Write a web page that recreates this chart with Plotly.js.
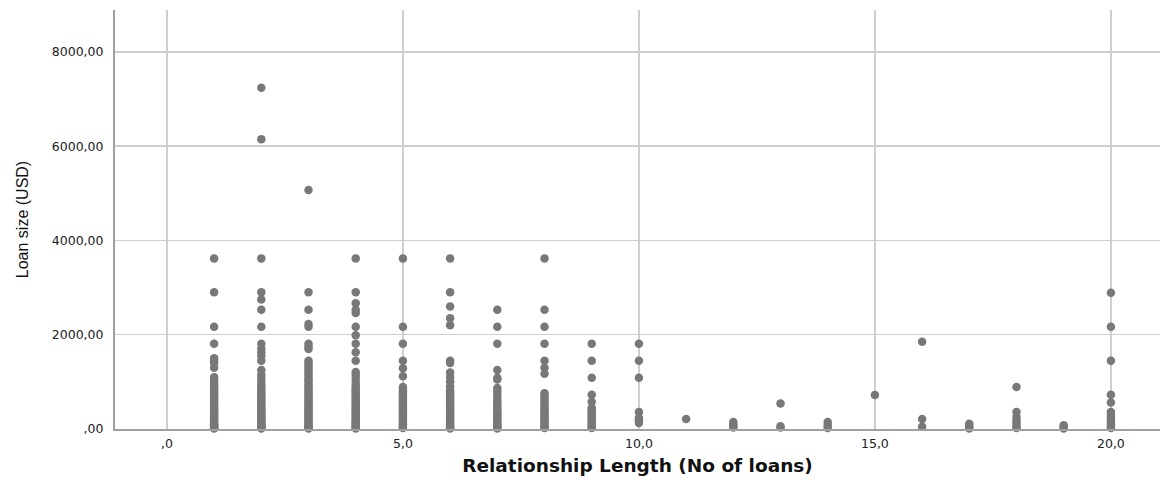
<!DOCTYPE html>
<html>
<head>
<meta charset="utf-8">
<script src="https://cdn.plot.ly/plotly-3.0.1.min.js"></script>
<style>html,body{margin:0;padding:0;background:#fff;}#chart{width:1162px;height:480px;}</style>
</head>
<body>
<div id="chart"></div>
<script>
// Loan sizes (USD) by relationship length (number of loans)
const len1 = [3620, 2900, 2170, 1810, 1500, 1450, 1400, 1300, 1100, 1050, 1000, 950, 900, 860, 800, 760, 725, 690, 650, 600, 560, 520, 480, 450, 420, 380, 362, 330, 300, 270, 240, 210, 180, 150, 120, 100, 80, 60, 40, 20, 10];
const len2 = [7240, 6150, 3620, 2900, 2750, 2530, 2170, 1810, 1700, 1620, 1550, 1450, 1250, 1150, 1085, 1000, 930, 880, 830, 780, 725, 690, 650, 600, 560, 520, 480, 440, 400, 362, 330, 300, 270, 240, 210, 180, 150, 120, 100, 80, 60, 40, 20, 10];
const len3 = [5070, 2900, 2530, 2230, 2170, 1810, 1750, 1700, 1450, 1400, 1350, 1300, 1250, 1200, 1150, 1085, 1040, 1000, 950, 900, 860, 800, 760, 725, 680, 640, 600, 560, 520, 480, 440, 400, 362, 330, 290, 250, 210, 180, 150, 120, 90, 60, 40, 20, 10];
const len4 = [3620, 2900, 2670, 2530, 2460, 2170, 1990, 1810, 1630, 1450, 1210, 1150, 1085, 1000, 930, 880, 840, 800, 760, 725, 680, 640, 600, 560, 520, 480, 440, 400, 362, 320, 280, 240, 200, 170, 140, 110, 80, 50, 30, 10];
const len5 = [3620, 2170, 1810, 1450, 1290, 1120, 890, 850, 800, 760, 725, 680, 640, 600, 560, 520, 480, 440, 400, 362, 320, 280, 240, 200, 160, 130, 100, 70, 40, 20];
const len6 = [3620, 2900, 2600, 2350, 2200, 1450, 1400, 1200, 1100, 1000, 900, 820, 780, 725, 690, 650, 600, 560, 520, 480, 440, 400, 362, 320, 280, 240, 200, 160, 120, 90, 60, 30, 10];
const len7 = [2530, 2170, 1810, 1250, 1085, 1050, 870, 800, 725, 650, 600, 560, 500, 450, 400, 362, 320, 280, 240, 200, 160, 120, 90, 60, 30, 10];
const len8 = [3620, 2530, 2170, 1810, 1450, 1300, 1170, 760, 700, 650, 600, 550, 500, 450, 400, 362, 320, 280, 240, 200, 160, 120, 80, 50, 20];
const len9 = [1810, 1450, 1085, 725, 580, 450, 400, 362, 320, 280, 240, 200, 160, 120, 80, 50, 20];
const len10 = [1810, 1450, 1085, 360, 230, 180, 130];
const len11 = [210];
const len12 = [150, 100, 60, 30];
const len13 = [540, 60, 30];
const len14 = [150, 80, 20];
const len15 = [720];
const len16 = [1850, 210, 50];
const len17 = [110, 60, 10];
const len18 = [890, 360, 260, 180, 120, 60, 20];
const len19 = [80, 40, 10];
const len20 = [2890, 2170, 1450, 725, 560, 360, 300, 250, 200, 150, 100, 50, 20];

const lengths = [1,2,3,4,5,6,7,8,9,10,11,12,13,14,15,16,17,18,19,20];
const loanSizes = [len1,len2,len3,len4,len5,len6,len7,len8,len9,len10,len11,len12,len13,len14,len15,len16,len17,len18,len19,len20];

const xTickVals = [0, 5, 10, 15, 20];
const xTickText = [",0", "5,0", "10,0", "15,0", "20,0"];
const yTickVals = [0, 2000, 4000, 6000, 8000];
const yTickText = [",00", "2000,00", "4000,00", "6000,00", "8000,00"];

const xs = [], ys = [];
lengths.forEach((l, i) => {
  loanSizes[i].forEach(v => { xs.push(l); ys.push(v); });
});

const trace = {
  type: 'scatter',
  mode: 'markers',
  x: xs,
  y: ys,
  cliponaxis: false,
  marker: {color: '#787878', size: 8.5, line: {width: 0}},
  hoverinfo: 'x+y'
};

const tickFont = {family: 'DejaVu Sans, Verdana, sans-serif', size: 12.5, color: '#222222'};

const layout = {
  width: 1162,
  height: 480,
  margin: {l: 115, r: 2, t: 10, b: 51},
  paper_bgcolor: '#ffffff',
  plot_bgcolor: '#ffffff',
  showlegend: false,
  font: tickFont,
  xaxis: {
    range: [-1.1, 21.04],
    tickvals: xTickVals,
    ticktext: xTickText,
    showgrid: true,
    gridcolor: '#cfcfcf',
    gridwidth: 1.5,
    zeroline: false,
    showline: true,
    linecolor: '#a0a0a0',
    linewidth: 2,
    ticks: '',
    ticklabelstandoff: 2,
    tickfont: tickFont,
    title: {text: 'Relationship Length (No of loans)', standoff: 9,
            font: {family: 'DejaVu Sans, Verdana, sans-serif', size: 18.5, color: '#111111', weight: 'bold'}}
  },
  yaxis: {
    range: [0, 8890],
    tickvals: yTickVals,
    ticktext: yTickText,
    showgrid: true,
    gridcolor: '#cfcfcf',
    gridwidth: 1.5,
    zeroline: false,
    showline: true,
    linecolor: '#a0a0a0',
    linewidth: 2,
    ticks: '',
    ticklabelstandoff: 7,
    tickfont: tickFont,
    title: {text: 'Loan size (USD)', standoff: 19,
            font: {family: 'Liberation Sans, Arial, sans-serif', size: 16, color: '#111111'}}
  }
};

Plotly.newPlot('chart', [trace], layout, {displayModeBar: false, staticPlot: true});
</script>
</body>
</html>
